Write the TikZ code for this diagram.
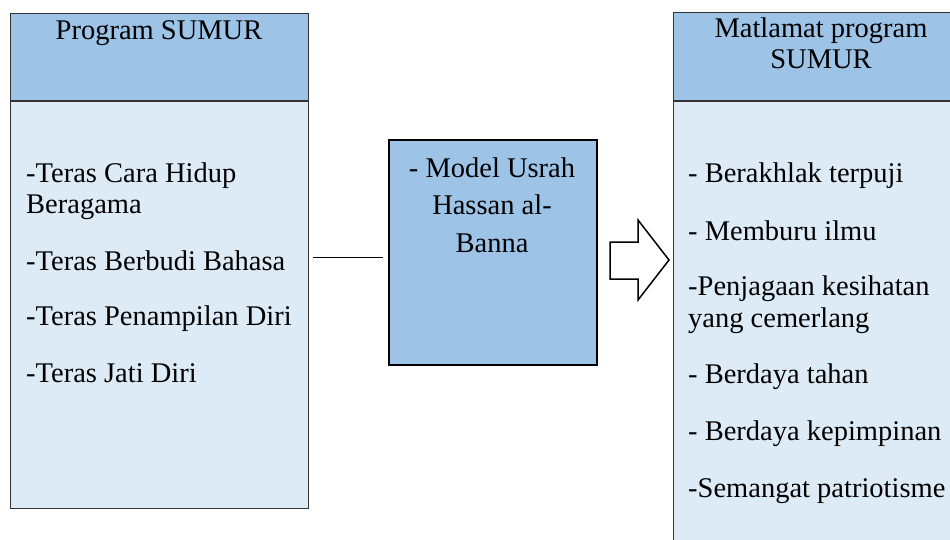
\documentclass[tikz,border=0pt]{standalone}
\usepackage{fontspec}
\setmainfont{Liberation Serif}
\usetikzlibrary{positioning,calc}
\definecolor{headblue}{RGB}{157,195,230}
\definecolor{bodyblue}{RGB}{221,235,247}
\begin{document}
\begin{tikzpicture}[
    x=1pt, y=-1pt,
    headbox/.style={rectangle, draw=black!80, line width=1pt, fill=headblue, inner sep=0pt},
    bodybox/.style={rectangle, draw=black!80, line width=1pt, fill=bodyblue, inner sep=0pt},
    modelbox/.style={rectangle, draw=black, line width=2pt, fill=headblue, inner sep=0pt},
    txt/.style={inner sep=0pt, font=\rmfamily\fontsize{28.5}{31}\selectfont},
    link/.style={line width=1pt, black}
]
    \useasboundingbox (0,0) rectangle (950,539);
    \clip (0,0) rectangle (950,539);

    % Left column
    \node[headbox, minimum width=298pt, minimum height=87pt, anchor=north west] (proghead) at (10,13) {};
    \node[bodybox, minimum width=298pt, minimum height=407pt, anchor=north] (progbody) at (proghead.south) {};
    \node[txt, anchor=base] (progtitle) at (159,39) {Program SUMUR};
    \node[txt, anchor=base west] (teras1) at (26,182) {-Teras Cara Hidup};
    \node[txt, anchor=base west] (teras1b) at (26,213) {Beragama};
    \node[txt, anchor=base west] (teras2) at (26,270) {-Teras Berbudi Bahasa};
    \node[txt, anchor=base west] (teras3) at (26,325) {-Teras Penampilan Diri};
    \node[txt, anchor=base west] (teras4) at (26,382) {-Teras Jati Diri};

    % Middle box
    \node[modelbox, minimum width=208pt, minimum height=225pt, anchor=north west] (model) at (388,139) {};
    \node[txt, anchor=base] (model1) at (492,177) {- Model Usrah};
    \node[txt, anchor=base] (model2) at (492,214) {Hassan al-};
    \node[txt, anchor=base] (model3) at (492,252) {Banna};

    % Right column
    \node[headbox, minimum width=296pt, minimum height=88pt, anchor=north west] (goalhead) at (673,12) {};
    \node[bodybox, minimum width=296pt, minimum height=460pt, anchor=north] (goalbody) at (goalhead.south) {};
    \node[txt, anchor=base] (goaltitle1) at (821,37) {Matlamat program};
    \node[txt, anchor=base] (goaltitle2) at (821,68) {SUMUR};
    \node[txt, anchor=base west] (goal1) at (688,182) {- Berakhlak terpuji};
    \node[txt, anchor=base west] (goal2) at (688,240) {- Memburu ilmu};
    \node[txt, anchor=base west] (goal3) at (688,295) {-Penjagaan kesihatan};
    \node[txt, anchor=base west] (goal3b) at (688,327) {yang cemerlang};
    \node[txt, anchor=base west] (goal4) at (688,383) {- Berdaya tahan};
    \node[txt, anchor=base west] (goal5) at (688,440) {- Berdaya kepimpinan};
    \node[txt, anchor=base west] (goal6) at (688,497) {-Semangat patriotisme};

    % Connectors
    \coordinate (linkstart) at (313,257);
    \draw[link, shorten >=5pt] (linkstart) -- (linkstart -| model.west);
    \coordinate (arrowtail) at (610,260.5);
    \draw[line width=1.5pt, fill=white] (arrowtail) ++(0,-18.5) -- ++(28,0) -- ++(0,-22)
        -- (669,260) -- (638,300) -- ++(0,-21) -- ++(-28,0) -- cycle;
\end{tikzpicture}
\end{document}
